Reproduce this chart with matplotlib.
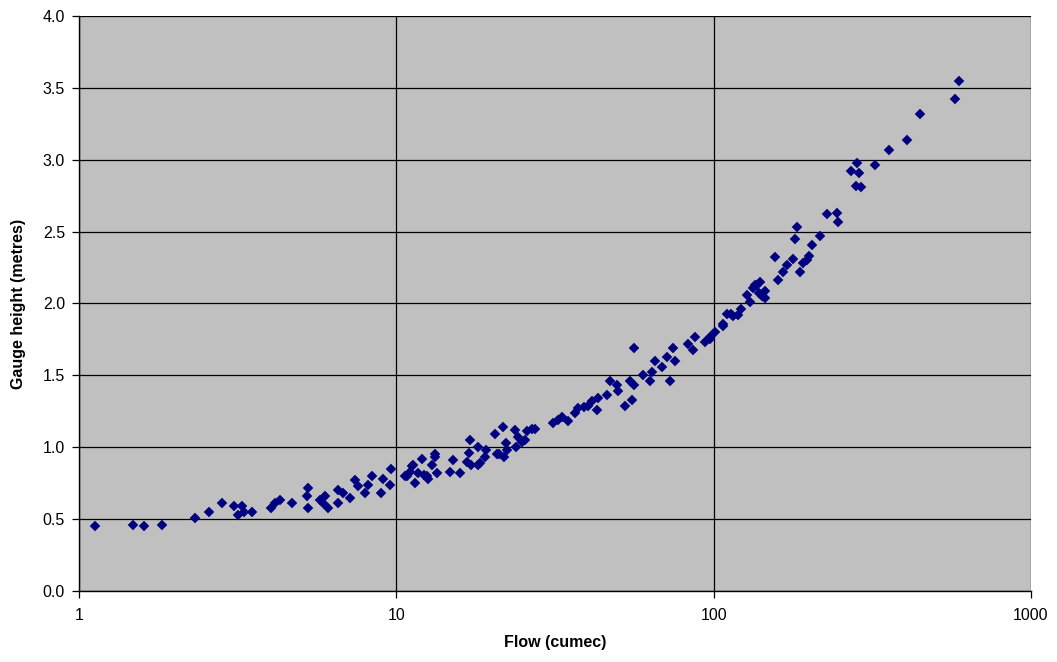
import numpy as np
import matplotlib
matplotlib.use("Agg")
import matplotlib.pyplot as plt
from matplotlib.ticker import FixedLocator, FixedFormatter, NullLocator

# Flow (cumec) and gauge height (metres)
flow = [
    1.12, 1.48, 1.60, 1.82, 2.32, 2.57, 2.82, 3.08, 3.18, 3.26, 3.30, 3.50,
    4.02, 4.15, 4.30, 4.70, 5.28, 5.24, 5.28, 5.75, 5.96, 5.89, 6.11, 6.56,
    6.56, 6.81, 7.15, 7.41, 7.59, 7.97, 8.16, 8.37, 8.93, 9.10, 9.55, 9.59,
    10.65, 10.78, 11.05, 11.32, 11.45, 12.02, 11.73, 12.47, 12.93, 13.24, 13.41,
    14.76, 15.12, 15.88, 16.67, 17.07, 17.2, 18.14, 18.36, 19.03, 19.2, 20.47,
    20.7, 21.74, 21.9, 22.13, 22.4, 23.66, 23.9, 24.2, 25.45, 25.9, 26.7, 27.4,
    31.25, 32.4, 33.2, 34.8, 36.6, 37.5, 38.9, 40.3, 41.3, 42.8, 43.3, 46.0,
    47.0, 49.5, 50.1, 52.6, 55.2, 54.6, 55.9, 55.9, 60.0, 63.0, 63.7, 65.4,
    68.6, 71.1, 72.6, 74.4, 75.3, 83.2, 86.3, 87.2, 94.0, 97.3, 101.0, 97.3,
    107.3, 110.0, 115.4, 119.6, 121.6, 127.2, 130.3, 133.4, 136.8, 138.5, 140.2,
    142.0, 145.2, 145.2, 156.1, 160.0, 165.9, 170.0, 178.3, 180.6, 183.5, 187.2,
    191.8, 196.6, 199.8, 203.8, 216.4, 227.3, 244.3, 247.0, 271.0, 282.5, 287.9,
    280.4, 290.8, 322.7, 357.1, 407.9, 447.2, 576.5, 595.0,
    11.2, 12.2, 12.6, 13.2, 16.9, 18.1, 21.0, 24.8, 113.0, 135.0, 107.0,
]
height = [
    0.45, 0.46, 0.45, 0.46, 0.51, 0.55, 0.61, 0.59, 0.53, 0.59, 0.55, 0.55,
    0.58, 0.61, 0.63, 0.61, 0.72, 0.66, 0.58, 0.63, 0.66, 0.61, 0.58, 0.61,
    0.70, 0.68, 0.65, 0.77, 0.73, 0.68, 0.74, 0.80, 0.68, 0.78, 0.74, 0.85,
    0.80, 0.80, 0.83, 0.88, 0.75, 0.92, 0.82, 0.80, 0.88, 0.93, 0.82,
    0.83, 0.91, 0.82, 0.90, 1.05, 0.88, 1.00, 0.89, 0.93, 0.98, 1.09,
    0.95, 1.14, 0.93, 1.03, 0.98, 1.12, 1.00, 1.07, 1.05, 1.11, 1.13, 1.13,
    1.17, 1.19, 1.21, 1.18, 1.24, 1.27, 1.28, 1.29, 1.32, 1.26, 1.34, 1.36,
    1.46, 1.43, 1.39, 1.29, 1.33, 1.46, 1.43, 1.69, 1.50, 1.46, 1.52, 1.60,
    1.56, 1.63, 1.46, 1.69, 1.60, 1.72, 1.68, 1.77, 1.73, 1.77, 1.80, 1.75,
    1.84, 1.93, 1.91, 1.92, 1.96, 2.06, 2.01, 2.11, 2.13, 2.07, 2.15,
    2.05, 2.09, 2.04, 2.32, 2.16, 2.22, 2.27, 2.31, 2.45, 2.53, 2.22,
    2.28, 2.30, 2.33, 2.41, 2.47, 2.62, 2.63, 2.57, 2.92, 2.98, 2.91,
    2.82, 2.81, 2.96, 3.07, 3.14, 3.32, 3.42, 3.55,
    0.87, 0.81, 0.78, 0.95, 0.96, 0.88, 0.95, 1.04, 1.93, 2.13, 1.86,
]

x_ticks = [1, 10, 100, 1000]
x_labels = ["1", "10", "100", "1000"]
y_ticks = np.arange(0, 4.01, 0.5)

plt.rcParams['font.family'] = ['Liberation Sans', 'DejaVu Sans']

fig = plt.figure(figsize=(10.57, 6.62), dpi=100)
ax = fig.add_axes([79 / 1057, 1 - 591 / 662, (1031 - 79) / 1057, (591 - 16) / 662])
ax.set_facecolor('#c0c0c0')

ax.plot(flow, height, linestyle='none', marker='D', markersize=5.2,
        markerfacecolor='#000080', markeredgecolor='#000080', markeredgewidth=0.3,
        zorder=3, clip_on=False)

ax.set_xscale('log')
ax.set_xlim(1, 1000)
ax.set_ylim(0, 4.0)

ax.xaxis.set_major_locator(FixedLocator(x_ticks))
ax.xaxis.set_major_formatter(FixedFormatter(x_labels))
ax.xaxis.set_minor_locator(NullLocator())
ax.set_yticks(y_ticks)
ax.set_yticklabels(['%.1f' % v for v in y_ticks])

ax.grid(True, which='major', color='black', linewidth=0.9)
ax.set_axisbelow(True)

for side in ['top', 'right']:
    ax.spines[side].set_visible(False)
for side in ['left', 'bottom']:
    ax.spines[side].set_color('black')
    ax.spines[side].set_linewidth(1.0)

ax.tick_params(axis='both', direction='out', length=5, width=0.9,
               labelsize=11.5, colors='black')
ax.tick_params(axis='x', pad=7)
ax.tick_params(axis='y', pad=5)

ax.set_xlabel('Flow (cumec)', fontsize=11.5, fontweight='bold', labelpad=9)
ax.set_ylabel('Gauge height (metres)', fontsize=11.5, fontweight='bold', labelpad=12)

fig.savefig('out.png', dpi=100)
